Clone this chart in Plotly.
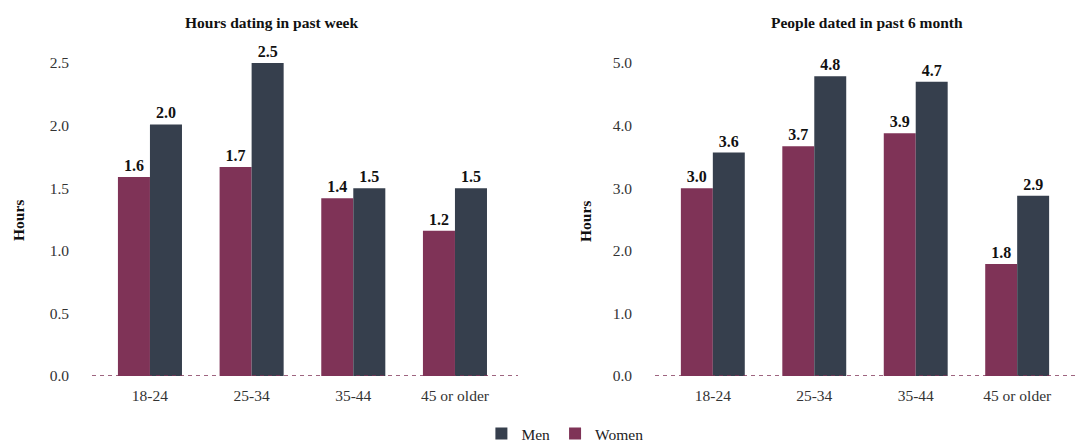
import plotly.graph_objects as go

categories = ["18-24", "25-34", "35-44", "45 or older"]
hours_women = [1.59, 1.67, 1.42, 1.16]
hours_men = [2.01, 2.5, 1.5, 1.5]
people_women = [3.0, 3.67, 3.88, 1.79]
people_men = [3.57, 4.79, 4.7, 2.88]
titles = ["Hours dating in past week", "People dated in past 6 month"]
y_title = "Hours"
left_ticks = [0, 0.5, 1.0, 1.5, 2.0, 2.5]
right_ticks = [0, 1, 2, 3, 4, 5]

WOMEN = "#7f3357"
MEN = "#363f4d"
FONT = "Liberation Serif, DejaVu Serif, serif"

fig = go.Figure()

def add_pair(women, men, xa, ya, show):
    fig.add_trace(go.Bar(x=categories, y=women, name="Women", marker_color=WOMEN,
                         marker_line_width=0,
                         texttemplate="<b>%{y:.1f}</b>", textposition="outside",
                         textfont=dict(size=16, color="#111", family=FONT),
                         cliponaxis=False, xaxis=xa, yaxis=ya, showlegend=show,
                         legendrank=2))
    fig.add_trace(go.Bar(x=categories, y=men, name="Men", marker_color=MEN,
                         marker_line_width=0,
                         texttemplate="<b>%{y:.1f}</b>", textposition="outside",
                         textfont=dict(size=16, color="#111", family=FONT),
                         cliponaxis=False, xaxis=xa, yaxis=ya, showlegend=show,
                         legendrank=1))

add_pair(hours_women, hours_men, "x", "y", True)
add_pair(people_women, people_men, "x2", "y2", False)

ydom = [(443 - 376) / 443, (443 - 38) / 443]
axfont = dict(size=15.5, color="#333", family=FONT)

fig.update_layout(
    width=1076, height=443,
    margin=dict(l=0, r=0, t=0, b=0, autoexpand=False),
    paper_bgcolor="white", plot_bgcolor="white",
    barmode="group", bargap=0.37, bargroupgap=0,
    font=dict(family=FONT, color="#222"),
    showlegend=True,
    legend=dict(orientation="h", x=0.525, xanchor="center", y=(443 - 434) / 443,
                yanchor="middle", font=dict(size=15.5, color="#222", family=FONT),
                itemwidth=30),
    xaxis=dict(domain=[92 / 1076, 518 / 1076], range=[-0.57, 3.62], showline=False,
               showgrid=False, ticks="", tickfont=axfont, ticklabelstandoff=8, anchor="y"),
    yaxis=dict(domain=ydom, range=[0, 2.7], tickvals=left_ticks, tickformat=".1f",
               showgrid=False, zeroline=False, showline=False, tickfont=axfont,
               ticklabelstandoff=22, anchor="x"),
    xaxis2=dict(domain=[655 / 1076, 1075 / 1076], range=[-0.57, 3.57], showline=False,
                showgrid=False, ticks="", tickfont=axfont, ticklabelstandoff=8, anchor="y2"),
    yaxis2=dict(domain=ydom, range=[0, 5.4], tickvals=right_ticks, tickformat=".1f",
                showgrid=False, zeroline=False, showline=False, tickfont=axfont,
                ticklabelstandoff=22, anchor="x2"),
)

for xr, yr in [("x domain", "y"), ("x2 domain", "y2")]:
    fig.add_shape(type="line", xref=xr, yref=yr, x0=0, x1=1, y0=0, y1=0,
                  line=dict(color=WOMEN, width=1.3, dash="4px,4px"), layer="above")

for cx, t in zip([271 / 1076, 867 / 1076], titles):
    fig.add_annotation(text="<b>" + t + "</b>", x=cx, y=(443 - 22) / 443, xref="paper",
                       yref="paper", showarrow=False, xanchor="center", yanchor="middle",
                       font=dict(size=15.5, color="#111", family=FONT))

for px in [18, 585]:
    fig.add_annotation(text="<b>" + y_title + "</b>", x=px / 1076, y=(443 - 221) / 443,
                       xref="paper", yref="paper", showarrow=False, textangle=-90,
                       xanchor="center", yanchor="middle",
                       font=dict(size=15.5, color="#111", family=FONT))

fig.write_html("out.html", config={"displayModeBar": False},
               post_script="document.body.style.margin='0';")
